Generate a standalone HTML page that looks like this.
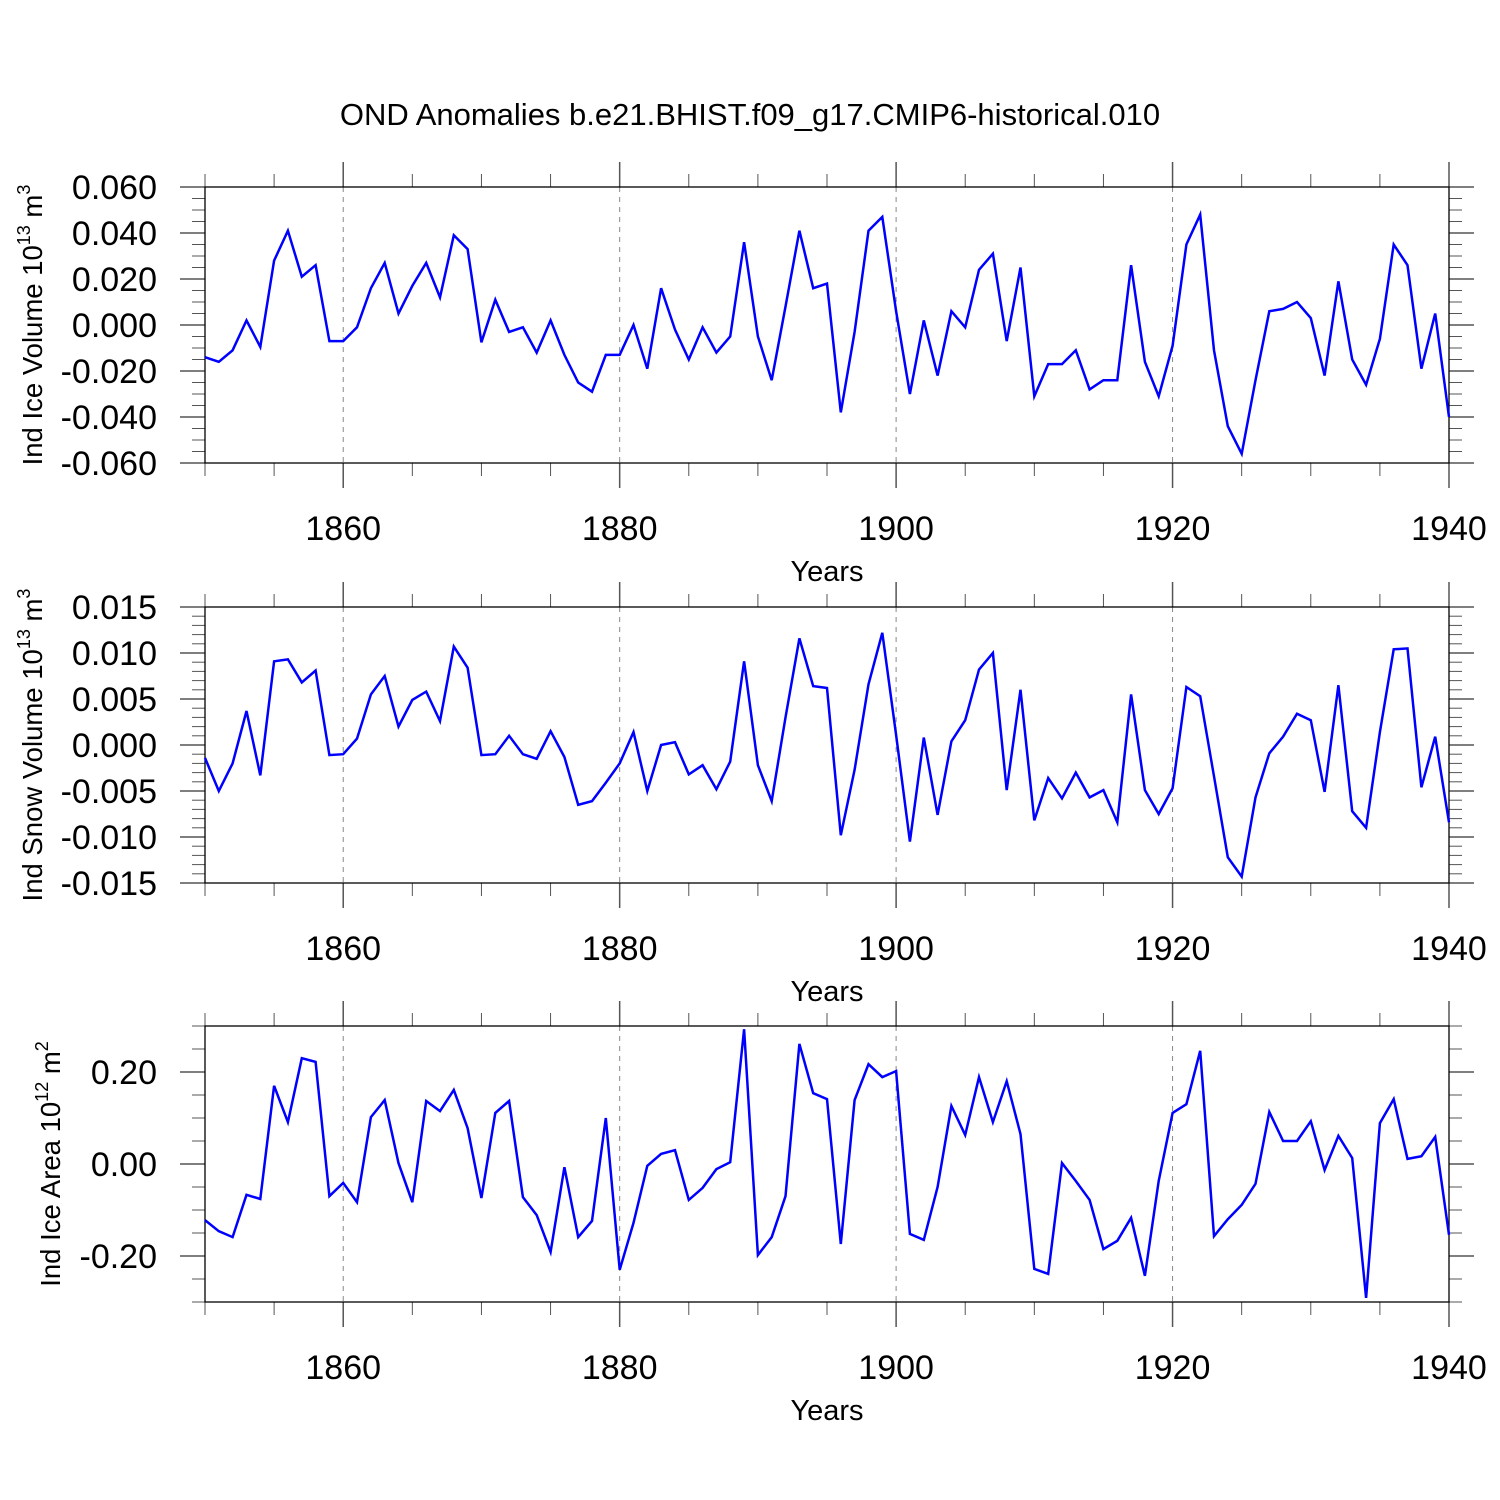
<!DOCTYPE html>
<html><head><meta charset="utf-8"><style>
html,body{margin:0;padding:0;background:#fff;}
svg{display:block;font-family:"Liberation Sans",Arial,sans-serif;}
</style></head><body>
<svg id="chart" width="1500" height="1500" viewBox="0 0 1500 1500" xmlns="http://www.w3.org/2000/svg">
<rect width="1500" height="1500" fill="#fff"/>
<text x="750" y="125" text-anchor="middle" font-size="31">OND Anomalies b.e21.BHIST.f09_g17.CMIP6-historical.010</text>
</svg>
<script>
const years = [];
for (let y = 1850; y <= 1940; y++) years.push(y);
const iceVolume = [-0.014,-0.016,-0.011,0.002,-0.0095,0.028,0.041,0.021,0.026,-0.007,-0.007,-0.001,0.016,0.027,0.005,0.017,0.027,0.012,0.039,0.033,-0.0075,0.011,-0.003,-0.001,-0.012,0.002,-0.013,-0.025,-0.029,-0.013,-0.013,0,-0.019,0.016,-0.002,-0.015,-0.001,-0.012,-0.005,0.036,-0.005,-0.024,0.008,0.041,0.016,0.018,-0.038,-0.003,0.041,0.047,0.006,-0.030,0.002,-0.022,0.006,-0.001,0.024,0.031,-0.007,0.025,-0.031,-0.017,-0.017,-0.011,-0.028,-0.024,-0.024,0.026,-0.016,-0.031,-0.009,0.035,0.048,-0.011,-0.044,-0.056,-0.024,0.006,0.007,0.010,0.003,-0.022,0.019,-0.015,-0.026,-0.006,0.035,0.026,-0.019,0.005,-0.040];
const snowVolume = [-0.0014,-0.005,-0.002,0.0037,-0.0033,0.0091,0.0093,0.0068,0.0081,-0.0011,-0.001,0.0007,0.0055,0.0075,0.002,0.0049,0.0058,0.0026,0.0107,0.0084,-0.0011,-0.001,0.001,-0.001,-0.0015,0.0015,-0.0013,-0.0065,-0.0061,-0.0041,-0.002,0.0014,-0.005,0.0,0.0003,-0.0032,-0.0022,-0.0048,-0.0018,0.0091,-0.0022,-0.0061,0.003,0.0116,0.0064,0.0062,-0.0098,-0.0027,0.0066,0.0122,0.0011,-0.0105,0.0008,-0.0076,0.0004,0.0027,0.0082,0.01,-0.0049,0.006,-0.0082,-0.0036,-0.0058,-0.003,-0.0057,-0.0049,-0.0084,0.0055,-0.0049,-0.0075,-0.0047,0.0063,0.0053,-0.0034,-0.0122,-0.0143,-0.0057,-0.0009,0.0009,0.0034,0.0027,-0.0051,0.0065,-0.0072,-0.009,0.0014,0.0104,0.0105,-0.0046,0.0009,-0.0084];
const iceArea = [-0.122,-0.146,-0.159,-0.067,-0.076,0.17,0.091,0.23,0.222,-0.07,-0.041,-0.083,0.102,0.139,0.002,-0.083,0.137,0.115,0.161,0.078,-0.074,0.111,0.137,-0.072,-0.111,-0.191,-0.007,-0.159,-0.124,0.1,-0.23,-0.128,-0.004,0.022,0.03,-0.078,-0.052,-0.011,0.004,0.293,-0.198,-0.159,-0.07,0.261,0.154,0.141,-0.174,0.139,0.217,0.189,0.202,-0.152,-0.165,-0.05,0.126,0.063,0.189,0.091,0.18,0.065,-0.228,-0.239,0.002,-0.037,-0.078,-0.185,-0.167,-0.117,-0.243,-0.037,0.111,0.13,0.246,-0.157,-0.12,-0.089,-0.043,0.113,0.05,0.05,0.093,-0.013,0.061,0.013,-0.291,0.089,0.141,0.011,0.017,0.059,-0.154];
const xTickLabels = ["1860","1880","1900","1920","1940"];
const xTickYears = [1860,1880,1900,1920,1940];
const p1Ticks = [-0.06,-0.04,-0.02,0,0.02,0.04,0.06];
const p1Labels = ["-0.060","-0.040","-0.020","0.000","0.020","0.040","0.060"];
const p2Ticks = [-0.015,-0.01,-0.005,0,0.005,0.01,0.015];
const p2Labels = ["-0.015","-0.010","-0.005","0.000","0.005","0.010","0.015"];
const p3Ticks = [-0.2,0,0.2];
const p3Labels = ["-0.20","0.00","0.20"];

const svg = document.getElementById('chart');
const NS = 'http://www.w3.org/2000/svg';
function mk(tag, attrs, parent) {
  const e = document.createElementNS(NS, tag);
  for (const k in attrs) e.setAttribute(k, attrs[k]);
  (parent || svg).appendChild(e);
  return e;
}
const X0 = 205, X1 = 1449;
function xs(yr) { return X0 + (yr - 1850) / 90 * (X1 - X0); }

const panels = [
  {top:187, ymin:-0.06, ymax:0.06, minor:0.005, data:iceVolume, ticks:p1Ticks, labels:p1Labels, title:"Ind Ice Volume 10", exp:"13", unit:" m", uexp:"3", tx:42, name:"ice-volume"},
  {top:607, ymin:-0.015, ymax:0.015, minor:0.001, data:snowVolume, ticks:p2Ticks, labels:p2Labels, title:"Ind Snow Volume 10", exp:"13", unit:" m", uexp:"3", tx:42, name:"snow-volume"},
  {top:1026, ymin:-0.3, ymax:0.3, minor:0.05, data:iceArea, ticks:p3Ticks, labels:p3Labels, title:"Ind Ice Area 10", exp:"12", unit:" m", uexp:"2", tx:60, name:"ice-area"}
];
const H = 276;
panels.forEach(p => {
  const g = mk('g', {});
  
  
  const ys = v => p.top + H - (v - p.ymin) / (p.ymax - p.ymin) * H;
  const bot = p.top + H;
  xTickYears.slice(0,4).forEach(yr => {
    const l = mk('line', {x1:xs(yr), x2:xs(yr), y1:p.top, y2:bot, stroke:'#888', 'stroke-width':1, 'stroke-dasharray':'5,5'}, g);
    
    
  });
  for (let yr = 1850; yr <= 1940; yr += 5) {
    const major = yr % 20 === 0;
    const len = major ? 25 : 13;
    mk('line', {x1:xs(yr), x2:xs(yr), y1:p.top - len, y2:p.top, stroke:'#555', 'stroke-width':major?1.5:1}, g);
    mk('line', {x1:xs(yr), x2:xs(yr), y1:bot, y2:bot + len, stroke:'#555', 'stroke-width':major?1.5:1}, g);
  }
  mk('line', {x1:X0, x2:X0, y1:p.top-13, y2:bot+13, stroke:'#555'}, g);
  const n = Math.round((p.ymax - p.ymin) / p.minor);
  for (let i = 0; i <= n; i++) {
    const v = p.ymin + i * p.minor;
    const y = ys(v);
    const major = p.ticks.some(t => Math.abs(t - v) < p.minor / 10);
    const len = major ? 25 : 13;
    mk('line', {x1:X0 - len, x2:X0, y1:y, y2:y, stroke:'#555', 'stroke-width':major?1.5:1}, g);
    mk('line', {x1:X1, x2:X1 + len, y1:y, y2:y, stroke:'#555', 'stroke-width':major?1.5:1}, g);
  }
  const fr = mk('rect', {x:X0, y:p.top, width:X1-X0, height:H, fill:'none', stroke:'#000', 'stroke-width':1.3}, g);
  
  
  p.ticks.forEach((t, i) => {
    const tx = mk('text', {x:157, y:ys(t) + 12, 'text-anchor':'end', 'font-size':34}, g);
    tx.textContent = p.labels[i];
    
    
  });
  xTickYears.forEach((yr, i) => {
    const tx = mk('text', {x:xs(yr), y:bot + 77, 'text-anchor':'middle', 'font-size':34}, g);
    tx.textContent = xTickLabels[i];
    
    
  });
  const xt = mk('text', {x:827, y:bot + 118, 'text-anchor':'middle', 'font-size':29}, g);
  xt.textContent = 'Years';
  
  
  const cy = p.top + H / 2;
  const yt = mk('text', {x:0, y:0, 'text-anchor':'middle', 'font-size':27.5, transform:`translate(${p.tx},${cy}) rotate(-90)`}, g);
  
  
  const s1 = mk('tspan', {}, yt); s1.textContent = p.title;
  const s2 = mk('tspan', {dy:-12, 'font-size':18}, yt); s2.textContent = p.exp;
  const s3 = mk('tspan', {dy:12}, yt); s3.textContent = p.unit;
  const s4 = mk('tspan', {dy:-12, 'font-size':18}, yt); s4.textContent = p.uexp;
  const pts = p.data.map((v, i) => xs(years[i]).toFixed(1) + ',' + ys(v).toFixed(1)).join(' ');
  const pl = mk('polyline', {points:pts, fill:'none', stroke:'#0000ff', 'stroke-width':2.5, 'stroke-linejoin':'miter'}, g);
  
  
});
</script>
</body></html>
